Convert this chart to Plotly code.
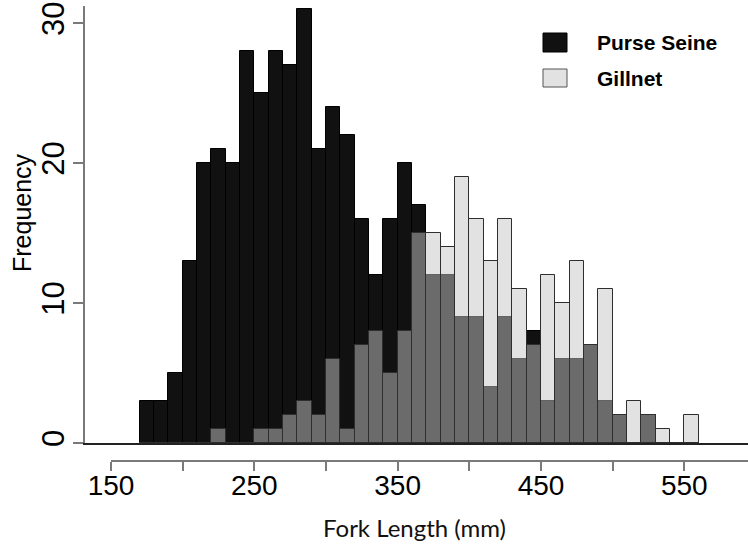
import plotly.graph_objects as go

# Fork-length histogram (10 mm bins) for two gear types
bin_starts = list(range(170, 560, 10))
purse_seine = [3, 3, 5, 13, 20, 21, 20, 28, 25, 28, 27, 31, 21, 24, 22, 16, 12, 16, 20, 17,
               12, 12, 9, 9, 4, 9, 6, 8, 3, 6, 6, 7, 3, 2, 0, 2, 0, 0, 0]
gillnet = [0, 0, 0, 0, 0, 1, 0, 0, 1, 1, 2, 3, 2, 6, 1, 7, 8, 5, 8, 15,
           15, 14, 19, 16, 13, 16, 11, 7, 12, 10, 13, 7, 11, 2, 3, 2, 1, 0, 2]
x_tick_vals = [150, 200, 250, 300, 350, 400, 450, 500, 550]
x_tick_text = ["150", "", "250", "", "350", "", "450", "", "550"]
y_tick_vals = [0, 10, 20, 30]
series_names = ["Purse Seine", "Gillnet"]

BIN = 10
centers = [b + BIN / 2 for b in bin_starts]

W, H = 748, 546
ML, MR, MT, MB = 85, 0, 6, 85
PW, PH = W - ML - MR, H - MT - MB
BASE_Y = 443          # pixel row of the zero line
X_AX_Y = 461          # pixel row of the detached x axis


def px(xp):
    return (xp - ML) / PW


def py(yp):
    return (H - MB - yp) / PH


mm_per_px = 1 / 1.4333
x_lo = 150 - (111 - ML) * mm_per_px
x_hi = 150 + (W - MR - 111) * mm_per_px
y_hi = (BASE_Y - MT) / 13.99

fig = go.Figure()
fig.add_trace(go.Bar(
    x=centers, y=purse_seine, width=BIN, name=series_names[0],
    marker=dict(color="#111111", line=dict(color="#000000", width=1)),
    showlegend=False,
))
fig.add_trace(go.Bar(
    x=centers, y=gillnet, width=BIN, name=series_names[1],
    marker=dict(color="rgba(197,197,197,0.5)", line=dict(color="#2e2e2e", width=1)),
    showlegend=False,
))
# carrier trace for the detached tick axis
fig.add_trace(go.Scatter(x=[], y=[], xaxis="x2", yaxis="y", showlegend=False, hoverinfo="skip"))

tick_font = dict(family="Liberation Sans, Arial, sans-serif", size=28, color="#000000")

fig.update_layout(
    width=W, height=H,
    margin=dict(l=ML, r=MR, t=MT, b=MB, pad=0),
    paper_bgcolor="white", plot_bgcolor="rgba(0,0,0,0)",
    barmode="overlay", bargap=0,
    xaxis=dict(
        domain=[0, 1], range=[x_lo, x_hi], anchor="y",
        showline=True, linecolor="#222222", linewidth=1.5,
        showticklabels=False, ticks="", showgrid=False, zeroline=False,
    ),
    xaxis2=dict(
        domain=[px(111), 1], range=[150, x_hi], anchor="free", position=0,
        side="bottom",
        showline=True, linecolor="#7a7a7a", linewidth=1.5,
        ticks="outside", ticklen=9, tickwidth=1.5, tickcolor="#7a7a7a",
        tickvals=x_tick_vals, ticktext=x_tick_text, tickfont=tick_font,
        ticklabelstandoff=-9,
        showgrid=False, zeroline=False,
    ),
    yaxis=dict(
        domain=[py(BASE_Y), 1], range=[0, y_hi],
        showline=True, linecolor="#7a7a7a", linewidth=1.5,
        ticks="outside", ticklen=10, tickwidth=1.5, tickcolor="#7a7a7a",
        tickvals=y_tick_vals, tickangle=-90, ticklabelstandoff=-3,
        tickfont=dict(family="Liberation Sans, Arial, sans-serif", size=31, color="#000000"),
        showgrid=False, zeroline=False,
    ),
)

annotations = [
    dict(text="Frequency", x=px(22), y=py(213), xref="paper", yref="paper",
         textangle=-90, showarrow=False, xanchor="center", yanchor="middle",
         font=dict(family="Liberation Sans, Arial, sans-serif", size=25, color="#000000")),
    dict(text="Fork Length (mm)", x=px(414), y=py(527), xref="paper", yref="paper",
         showarrow=False, xanchor="center", yanchor="middle",
         font=dict(family="Lato, sans-serif", size=24, color="#111111")),
]

# legend drawn as swatches plus labels
legend_rows = [(series_names[0], "#111111", "#000000", 33, 52),
               (series_names[1], "#e2e2e2", "#555555", 69, 87)]
shapes = []
for name, fill, edge, top, bot in legend_rows:
    shapes.append(dict(type="rect", xref="paper", yref="paper",
                       x0=px(543), x1=px(567), y0=py(bot), y1=py(top),
                       fillcolor=fill, line=dict(color=edge, width=1)))
    annotations.append(dict(text=f"<b>{name}</b>", x=px(595), y=py((top + bot) / 2),
                            xref="paper", yref="paper", showarrow=False,
                            xanchor="left", yanchor="middle",
                            font=dict(family="Liberation Sans, Arial, sans-serif",
                                      size=21, color="#000000")))

fig.update_layout(annotations=annotations, shapes=shapes)
fig.write_html("out.html")
